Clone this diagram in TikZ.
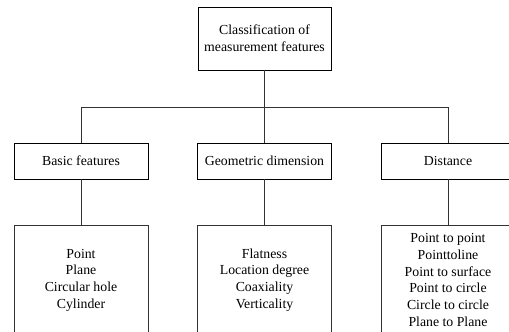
\documentclass[tikz,border=0pt]{standalone}
\usepackage{fontspec}
\setmainfont{Liberation Serif}
\usepackage{tikz}
\usetikzlibrary{trees}

\begin{document}
\begin{tikzpicture}[x=1pt,y=1pt,font=\fontsize{13.8}{16.7}\selectfont,
                    box/.style={draw,line width=0.8pt,align=center,inner sep=0pt,minimum width=134pt},
                    edge from parent/.style={draw,line width=0.9pt,black!80}]
                    \useasboundingbox (0,0) rectangle (509,332);
                    \node[box,minimum width=133pt,minimum height=63pt] (root node) at (264.5,293.5)
                        {Classification of\\measurement features}
                        [grow=down,
                         level 1/.style={level distance=122.5pt,sibling distance=183.5pt,
                            edge from parent path={(\tikzparentnode.south) -- ++(0,-37pt) -| (\tikzchildnode.north)}},
                         level 2/.style={level distance=119pt,
                            edge from parent path={(\tikzparentnode.south) -- (\tikzchildnode.north)}}]
                    child {
                        node[box,minimum height=36pt] (basic node) {Basic features}
                        child { node[box,minimum height=110pt] (basic list) {Point\\Plane\\Circular hole\\Cylinder} }
                    }
                    child {
                        node[box,minimum height=36pt] (geo node) {Geometric dimension}
                        child { node[box,minimum height=110pt] (geo list) {Flatness\\Location degree\\Coaxiality\\Verticality} }
                    }
                    child {
                        node[box,minimum height=36pt] (dist node) {Distance}
                        child { node[box,minimum height=110pt] (dist list) {Point to point\\Pointtoline\\Point to surface\\Point to circle\\Circle to circle\\Plane to Plane} }
                    };

                \end{tikzpicture}
\end{document}
